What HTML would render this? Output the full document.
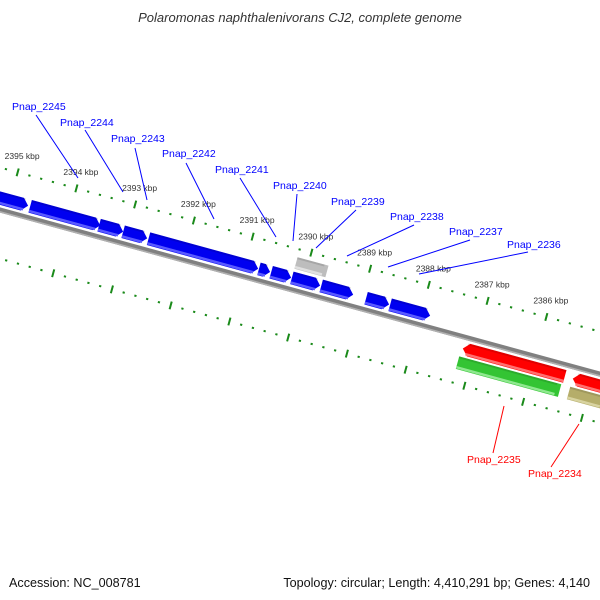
<!DOCTYPE html>
<html><head><meta charset="utf-8"><style>
html,body{margin:0;padding:0;background:#fff}
svg{display:block;font-family:"Liberation Sans","DejaVu Sans",sans-serif}
</style></head><body>
<svg id="map" width="600" height="600" viewBox="0 0 600 600">
<text x="300" y="22" text-anchor="middle" font-size="13" font-style="italic" fill="#333">Polaromonas naphthalenivorans CJ2, complete genome</text>
<g id="rot" transform="translate(0,210) rotate(15.3)"></g>
<g id="labels"></g>
<text x="9" y="587" font-size="12.6" fill="#111">Accession: NC_008781</text>
<text x="590" y="587" text-anchor="end" font-size="12.6" fill="#111">Topology: circular; Length: 4,410,291 bp; Genes: 4,140</text>
</svg>
<script>
var tickKbp = [2395,2394,2393,2392,2391,2390,2389,2388,2387,2386];
var tickLabels = ["2395 kbp","2394 kbp","2393 kbp","2392 kbp","2391 kbp","2390 kbp","2389 kbp","2388 kbp","2387 kbp","2386 kbp"];
var blueStarts = [2395600,2394655,2393481,2393072,2392640,2390760,2390552,2390200,2389700,2388936,2388527];
var blueEnds   = [2394690,2393463,2393072,2392663,2390773,2390570,2390212,2389719,2389156,2388544,2387846];
var grayGene = [2390199,2389672];
var redStarts = [2387186,2385314];
var redEnds   = [2385450,2384700];
var greenGene = [2387209,2385471];
var khakiGene = [2385319,2384700];
var blueNames = ["Pnap_2245","Pnap_2244","Pnap_2243","Pnap_2242","Pnap_2241","Pnap_2240","Pnap_2239","Pnap_2238","Pnap_2237","Pnap_2236"];
var redNames = ["Pnap_2235","Pnap_2234"];

var NS="http://www.w3.org/2000/svg";
var rot=document.getElementById('rot'), lab=document.getElementById('labels');
var TH=15.3*Math.PI/180, C=Math.cos(TH), S=Math.sin(TH);
function along(bp){return 68+(2394000-bp)*0.0609;}
function mk(tag,attrs,parent){var e=document.createElementNS(NS,tag);for(var k in attrs)e.setAttribute(k,attrs[k]);parent.appendChild(e);return e;}
function toScreen(a,yp){return [a*C-yp*S,210+a*S+yp*C];}

var bb=mk('rect',{x:-60,y:-2.5,width:760,height:5,fill:'#808080'},rot);


var bb2=mk('rect',{x:-60,y:1,width:760,height:1.5,fill:'#b0b0b0'},rot);



[-41,47].forEach(function(row){
  for(var bp=2396400;bp>=2384000;bp-=200){
    var a=along(bp);
    var major=(bp%1000===0);
    var t=mk('line',{x1:a,x2:a,y1:row-(major?4:1),y2:row+(major?4:1),stroke:'#1a8a1a','stroke-width':major?2:2.2},rot);
    
    
  }
});
tickKbp.forEach(function(k,i){
  var p=toScreen(along(k*1000),-58);
  var t=mk('text',{x:p[0],y:p[1]+3,'text-anchor':'middle','font-size':8.5,fill:'#333'},lab);
  t.textContent=tickLabels[i];
  
  
});

function gene(s,e,y0,h,fill,light,dir,name){
  var a1=along(s),a2=along(e),g=mk('g',{},rot);
  
  
  var pts;
  if(dir>0){var tip=Math.max(a1,a2-6);pts=[[a1,y0],[tip,y0],[a2,y0+h/2],[tip,y0+h],[a1,y0+h]];}
  else if(dir<0){var tip2=Math.min(a2,a1+6);pts=[[tip2,y0],[a2,y0],[a2,y0+h],[tip2,y0+h],[a1,y0+h/2]];}
  else pts=[[a1,y0],[a2,y0],[a2,y0+h],[a1,y0+h]];
  mk('polygon',{points:pts.map(function(p){return p.join(',');}).join(' '),fill:fill},g);
  mk('rect',{x:a1+(dir<0?4:0),y:y0+h-3,width:Math.max(0,a2-a1-4),height:2.5,fill:light},g);
  mk('rect',{x:a1+(dir<0?4:0),y:y0,width:Math.max(0,a2-a1-4),height:2,fill:'rgba(0,0,0,0.12)'},g);
}
for(var i=0;i<blueStarts.length;i++) gene(blueStarts[i],blueEnds[i],-18,13,'#0000f0','#5a5aff',1,'forward-gene');
gene(grayGene[0],grayGene[1],-33,12,'#bdbdbd','#e0e0e0',0,'gray-gene');
for(var j=0;j<redStarts.length;j++) gene(redStarts[j],redEnds[j],5,13,'#ff0000','#ff7070',-1,'reverse-gene');
gene(greenGene[0],greenGene[1],20,13,'#33c433','#8fe88f',0,'green-gene');
gene(khakiGene[0],khakiGene[1],20,13,'#b5ad6a','#d8d3a0',0,'khaki-gene');

var blueLab=[[12,110,36,115,78,178],[60,126,85,130,123,192],[111,142,135,148,147,200],[162,157,186,163,214,219],[215,173,240,178,276,237],[273,189,297,194,293,241],[331,205,356,210,316,248],[390,220,414,225,347,256],[449,235,470,240,388,267],[507,248,528,252,419,274]];
blueNames.forEach(function(n,i){
  var L=blueLab[i];
  var l=mk('line',{x1:L[2],y1:L[3],x2:L[4],y2:L[5],stroke:'#0000ff','stroke-width':1},lab);
  
  
  var t=mk('text',{x:L[0],y:L[1],'font-size':10.5,fill:'#0000ff'},lab);
  t.textContent=n;
  
  
});
var redLab=[[467,463,493,453,504,406],[528,477,551,467,579,424]];
redNames.forEach(function(n,i){
  var L=redLab[i];
  var l=mk('line',{x1:L[2],y1:L[3],x2:L[4],y2:L[5],stroke:'#ff0000','stroke-width':1},lab);
  
  
  var t=mk('text',{x:L[0],y:L[1],'font-size':10.5,fill:'#ff0000'},lab);
  t.textContent=n;
  
  
});
</script>
</body></html>
